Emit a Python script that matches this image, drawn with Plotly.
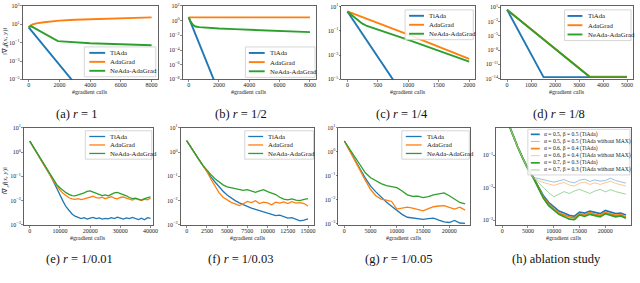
import numpy as np
import plotly.graph_objects as go

# ---------------- data (y values are log10 of ||grad_x f(x,y)||) -------------
# (a) r = 1
a_tiada_x = [0, 2900]
a_tiada_log = [0.66, -5.24]
a_adagrad_x = [0, 100, 250, 500, 1000, 1500, 2000, 3000, 4000, 5000, 6000, 7000, 8000]
a_adagrad_log = [0.66, 0.85, 0.98, 1.1, 1.22, 1.32, 1.4, 1.49, 1.55, 1.6, 1.66, 1.71, 1.76]
a_neada_x = [0, 150, 1900, 2500, 3000, 4000, 5000, 6000, 7000, 8000]
a_neada_log = [0.66, 0.8, -0.83, -0.92, -0.98, -1.07, -1.12, -1.17, -1.22, -1.28]

# (b) r = 1/2
b_tiada_x = [0, 1750]
b_tiada_log = [0.45, -8.51]
b_adagrad_x = [0, 8000]
b_adagrad_log = [0.45, 0.45]
b_neada_x = [0, 150, 300, 450, 700, 1000, 2000, 3000, 4000, 5000, 6000, 7000, 8000]
b_neada_log = [0.45, -0.2, -0.6, -0.8, -0.88, -0.93, -1.07, -1.16, -1.25, -1.33, -1.42, -1.5, -1.56]

# (c) r = 1/4
c_tiada_x = [0, 800]
c_tiada_log = [0.6, -5.4]
c_adagrad_x = [0, 1000, 2000]
c_adagrad_log = [0.6, -1.32, -3.32]
c_neada_x = [0, 130, 240, 320, 1000, 2000]
c_neada_log = [0.6, 0.07, -0.39, -0.6, -1.75, -3.53]

# (d) r = 1/8
d_tiada_x = [0, 1520, 5000]
d_tiada_log = [0.47, -13.67, -13.67]
d_adagrad_x = [0, 3450, 5000]
d_adagrad_log = [0.47, -13.6, -13.6]
d_neada_x = [0, 150, 3450, 5000]
d_neada_log = [0.47, -0.2, -13.67, -13.67]

# (e) r = 1/0.01
e_x = list(range(0, 40001, 1000))
e_tiada_log = [0.45, 0.25, 0.04, -0.17, -0.38, -0.6, -0.8, -1.0, -1.25, -1.52, -1.78,
               -2.02, -2.25, -2.42, -2.55, -2.64, -2.7, -2.74, -2.7, -2.76, -2.72,
               -2.69, -2.74, -2.71, -2.76, -2.73, -2.75, -2.7, -2.74, -2.68, -2.72,
               -2.76, -2.71, -2.74, -2.69, -2.73, -2.78, -2.72, -2.79, -2.7, -2.73]
e_adagrad_log = [0.45, 0.25, 0.04, -0.17, -0.38, -0.6, -0.8, -1.0, -1.22, -1.4, -1.56,
                 -1.7, -1.8, -1.88, -1.93, -1.95, -1.92, -1.96, -1.93, -1.9, -1.85,
                 -1.82, -1.88, -1.9, -1.86, -1.92, -1.88, -1.84, -1.9, -1.93, -1.87,
                 -1.85, -1.9, -1.95, -1.98, -1.92, -1.96, -2.0, -1.94, -1.97, -1.9]
e_neada_log = [0.45, 0.25, 0.04, -0.17, -0.38, -0.6, -0.8, -1.0, -1.2, -1.35, -1.47,
               -1.58, -1.67, -1.74, -1.79, -1.8, -1.77, -1.72, -1.68, -1.62, -1.6,
               -1.65, -1.7, -1.74, -1.79, -1.76, -1.8, -1.74, -1.68, -1.66, -1.7,
               -1.75, -1.8, -1.87, -1.92, -1.9, -1.95, -1.98, -1.92, -1.88, -1.84]

# (f) r = 1/0.03
f_x = list(range(0, 15001, 500))
f_tiada_log = [0.47, 0.2, -0.05, -0.3, -0.55, -0.8, -1.02, -1.23, -1.43, -1.61, -1.77,
               -1.9, -2.0, -2.09, -2.17, -2.25, -2.31, -2.36, -2.41, -2.47, -2.52,
               -2.55, -2.62, -2.6, -2.67, -2.72, -2.7, -2.77, -2.83, -2.8, -2.75]
f_adagrad_log = [0.47, 0.2, -0.05, -0.3, -0.55, -0.8, -1.12, -1.42, -1.67, -1.86, -1.98,
                 -2.07, -2.13, -2.2, -2.13, -2.03, -2.08, -2.0, -2.12, -2.06, -2.09,
                 -2.17, -2.06, -2.1, -2.05, -2.12, -2.04, -2.1, -2.08, -2.12, -2.22]
f_neada_log = [0.47, 0.2, -0.05, -0.3, -0.55, -0.75, -0.93, -1.1, -1.24, -1.35, -1.43,
               -1.47, -1.5, -1.54, -1.58, -1.55, -1.62, -1.66, -1.6, -1.55, -1.63,
               -1.7, -1.75, -1.86, -1.94, -1.97, -1.93, -1.98, -2.0, -1.95, -1.92]

# (g) r = 1/0.05
g_x = list(range(0, 23001, 1000))
g_tiada_log = [0.45, 0.08, -0.3, -0.72, -1.1, -1.44, -1.68, -1.9, -2.1, -2.28, -2.44,
               -2.62, -2.74, -2.78, -2.8, -2.83, -2.8, -2.78, -2.86, -2.93, -2.96,
               -2.87, -2.98, -3.0]
g_adagrad_log = [0.45, 0.06, -0.34, -0.78, -1.2, -1.58, -1.84, -1.98, -2.02, -2.08, -2.4,
                 -2.35, -2.32, -2.36, -2.42, -2.47, -2.38, -2.3, -2.27, -2.25, -2.33,
                 -2.4, -2.32, -2.44]
g_neada_log = [0.45, 0.12, -0.2, -0.58, -0.88, -1.09, -1.22, -1.33, -1.42, -1.46, -1.5,
               -1.64, -1.8, -1.87, -1.86, -1.92, -1.88, -1.8, -1.76, -1.72, -1.84,
               -1.98, -2.12, -2.18]

# (h) ablation study
h_x = list(range(0, 24001, 1000))
h_a5_tiada_log = [0.45, 0.03, -0.38, -0.75, -1.1, -1.42, -1.68, -1.95, -2.25, -2.45, -2.6,
                  -2.72, -2.78, -2.85, -2.88, -2.75, -2.78, -2.72, -2.76, -2.8, -2.7,
                  -2.74, -2.8, -2.78, -2.84]
h_a5_nomax_log = [0.45, 0.03, -0.38, -0.75, -1.1, -1.42, -1.68, -1.72, -1.76, -1.8, -1.83,
                  -1.79, -1.75, -1.82, -1.85, -1.77, -1.74, -1.81, -1.76, -1.8, -1.78,
                  -1.71, -1.78, -1.82, -1.86]
h_a6_tiada_log = [0.45, 0.03, -0.38, -0.75, -1.1, -1.42, -1.68, -1.98, -2.3, -2.5, -2.66,
                  -2.77, -2.84, -2.9, -2.93, -2.8, -2.84, -2.77, -2.82, -2.85, -2.76,
                  -2.8, -2.85, -2.83, -2.9]
h_a6_nomax_log = [0.45, 0.03, -0.38, -0.75, -1.1, -1.42, -1.68, -1.78, -1.84, -1.89, -1.93,
                  -1.88, -1.84, -1.92, -1.95, -1.86, -1.83, -1.9, -1.85, -1.9, -1.86,
                  -1.8, -1.87, -1.9, -1.95]
h_a7_tiada_log = [0.45, 0.03, -0.38, -0.75, -1.1, -1.42, -1.68, -2.0, -2.33, -2.55, -2.7,
                  -2.82, -2.89, -2.97, -2.98, -2.84, -2.88, -2.82, -2.86, -2.9, -2.8,
                  -2.84, -2.9, -2.87, -2.94]
h_a7_nomax_log = [0.45, 0.03, -0.38, -0.75, -1.1, -1.42, -1.68, -1.85, -2.0, -2.15, -2.28,
                  -2.2, -2.12, -2.18, -2.1, -2.05, -2.12, -2.18, -2.1, -2.05, -2.13,
                  -2.06, -2.12, -2.15, -2.2]

# tick labels
xt_ab = [0, 2000, 4000, 6000, 8000]
xt_c = [0, 500, 1000, 1500, 2000]
xt_d = [0, 1000, 2000, 3000, 4000, 5000]
xt_e = [0, 10000, 20000, 30000, 40000]
xt_f = [0, 2500, 5000, 7500, 10000, 12500, 15000]
xt_gh = [0, 5000, 10000, 15000, 20000]
yt_a = [3, 1, -1, -3, -5]
yt_b = [2, 0, -2, -4, -6, -8]
yt_c = [1, -1, -3, -5]
yt_d = [1, -2, -5, -8, -11, -14]
yt_efg = [1, 0, -1, -2, -3]
yt_h = [-1, -2, -3]

# ---------------- styling ----------------
W, H = 640, 283
BLUE, ORANGE, GREEN = "#1f77b4", "#ff7f0e", "#2ca02c"
LBLUE, LORANGE, LGREEN = "#8dbcdc", "#ffbe85", "#93d093"
SERIF = "Liberation Serif"
NAMES3 = ["TiAda", "AdaGrad", "NeAda-AdaGrad"]
H_NAMES = ["α = 0.5, β = 0.5 (TiAda)", "α = 0.5, β = 0.5 (TiAda without MAX)",
           "α = 0.6, β = 0.4 (TiAda)", "α = 0.6, β = 0.4 (TiAda without MAX)",
           "α = 0.7, β = 0.3 (TiAda)", "α = 0.7, β = 0.3 (TiAda without MAX)"]


def pxx(p):
    return p / W


def pxy(p):
    return 1 - p / H


def sup(e):
    s = str(e).replace("-", "\u2212")
    return f"10<sup>{s}</sup>"


def three(tx, tl, ax, al, nx, nl, w):
    return [(tx, tl, BLUE, w, NAMES3[0]), (ax, al, ORANGE, w, NAMES3[1]), (nx, nl, GREEN, w, NAMES3[2])]


specs = [
    dict(box=(22.7, 2, 159, 77.3), xr=[-400, 8400], yr=[-5, 3], xt=xt_ab, yt=yt_a,
         cap="(a) <i>r</i> = 1", capx=77.6, capy=113,
         series=three(a_tiada_x, a_tiada_log, a_adagrad_x, a_adagrad_log, a_neada_x, a_neada_log, 1.9),
         leg=dict(left=85, top=44, right=157, rowh=9.2, font=6.8, sw=16, sx=5, gap=3.3)),
    dict(box=(184, 2, 318.5, 77.3), xr=[-400, 8400], yr=[-8, 2], xt=xt_ab, yt=yt_b,
         cap="(b) <i>r</i> = 1/2", capx=243, capy=113,
         series=three(b_tiada_x, b_tiada_log, b_adagrad_x, b_adagrad_log, b_neada_x, b_neada_log, 1.9),
         leg=dict(left=247.3, top=44, right=317.5, rowh=9.4, font=6.8, sw=16, sx=3.5, gap=3.3)),
    dict(box=(344, 2, 479, 77.3), xr=[-100, 2100], yr=[-5, 1.05], xt=xt_c, yt=yt_c,
         cap="(c) <i>r</i> = 1/4", capx=405, capy=113,
         series=three(c_tiada_x, c_tiada_log, c_adagrad_x, c_adagrad_log, c_neada_x, c_neada_log, 1.9),
         leg=dict(left=408.3, top=6, right=477, rowh=9.2, font=6.8, sw=15, sx=4, gap=3.3)),
    dict(box=(505, 2, 638, 77.3), xr=[-250, 5250], yr=[-14.15, 1.25], xt=xt_d, yt=yt_d,
         cap="(d) <i>r</i> = 1/8", capx=563, capy=113,
         series=three(d_tiada_x, d_tiada_log, d_adagrad_x, d_adagrad_log, d_neada_x, d_neada_log, 1.9),
         leg=dict(left=569, top=6, right=636, rowh=9.5, font=6.8, sw=15, sx=3, gap=3.3)),
    dict(box=(24, 127, 154, 227), xr=[-1970, 40750], yr=[-3.02, 1.0], xt=xt_e, yt=yt_efg,
         cap="(e) <i>r</i> = 1/0.01", capx=80, capy=261,
         series=three(e_x, e_tiada_log, e_x, e_adagrad_log, e_x, e_neada_log, 1.3),
         leg=dict(left=86, top=130, right=153, rowh=8.7, font=6.8, sw=16, sx=4, gap=3.3)),
    dict(box=(182, 127, 317, 227), xr=[-750, 15800], yr=[-3.02, 1.0], xt=xt_f, yt=yt_efg,
         cap="(f) <i>r</i> = 1/0.03", capx=242, capy=261,
         series=three(f_x, f_tiada_log, f_x, f_adagrad_log, f_x, f_neada_log, 1.3),
         leg=dict(left=246.7, top=130, right=316, rowh=8.7, font=6.8, sw=15, sx=3.5, gap=3.3)),
    dict(box=(341, 127, 474, 227), xr=[-1150, 24000], yr=[-3.08, 1.0], xt=xt_gh, yt=yt_efg,
         cap="(g) <i>r</i> = 1/0.05", capx=402, capy=261,
         series=three(g_x, g_tiada_log, g_x, g_adagrad_log, g_x, g_neada_log, 1.3),
         leg=dict(left=405, top=130, right=473, rowh=8.7, font=6.8, sw=16, sx=4, gap=3.3)),
    dict(box=(500, 127, 636, 227), xr=[-1190, 24990], yr=[-3.16, -0.16], xt=xt_gh, yt=yt_h,
         cap="(h) ablation study", capx=561, capy=261,
         series=[(h_x, h_a5_tiada_log, BLUE, 1.7, H_NAMES[0]),
                 (h_x, h_a5_nomax_log, LBLUE, 0.9, H_NAMES[1]),
                 (h_x, h_a6_tiada_log, ORANGE, 1.7, H_NAMES[2]),
                 (h_x, h_a6_nomax_log, LORANGE, 0.9, H_NAMES[3]),
                 (h_x, h_a7_tiada_log, GREEN, 1.7, H_NAMES[4]),
                 (h_x, h_a7_nomax_log, LGREEN, 0.9, H_NAMES[5])],
         leg=dict(left=532, top=128.5, right=635, rowh=7.3, font=5.6, sw=9, sx=3, gap=2.5)),
]

axis_common = dict(showline=True, linecolor="#3a3a3a", linewidth=0.8, mirror=True,
                   ticks="outside", ticklen=2, tickwidth=0.6, tickcolor="#3a3a3a",
                   showgrid=False, zeroline=False,
                   tickfont=dict(size=6, family=SERIF, color="#222"))

fig = go.Figure()
layout = {}
shapes = []
annotations = []

for i, sp in enumerate(specs, start=1):
    xa = "xaxis" if i == 1 else f"xaxis{i}"
    ya = "yaxis" if i == 1 else f"yaxis{i}"
    xid = "x" if i == 1 else f"x{i}"
    yid = "y" if i == 1 else f"y{i}"
    l, t, r, b = sp["box"]
    layout[xa] = dict(domain=[pxx(l), pxx(r)], anchor=yid, range=sp["xr"], ticklabelstandoff=-2,
                      tickvals=sp["xt"], ticktext=[str(v) for v in sp["xt"]], **axis_common)
    layout[ya] = dict(domain=[pxy(b), pxy(t)], anchor=xid, type="log", range=sp["yr"],
                      ticklabelstandoff=-1,
                      tickvals=[10.0 ** e for e in sp["yt"]], ticktext=[sup(e) for e in sp["yt"]],
                      **axis_common)
    for (x, lg, color, width, name) in sp["series"]:
        fig.add_trace(go.Scatter(x=x, y=np.power(10.0, lg), mode="lines", name=name,
                                 line=dict(color=color, width=width),
                                 xaxis=xid, yaxis=yid, showlegend=False, hoverinfo="skip"))
    # caption
    annotations.append(dict(text=sp["cap"], x=pxx(sp["capx"]), y=pxy(sp["capy"]), xref="paper",
                            yref="paper", showarrow=False, xanchor="center", yanchor="middle",
                            font=dict(family=SERIF, size=12.5, color="#111")))
    # x label
    annotations.append(dict(text="#gradient calls", x=pxx((l + r) / 2), y=pxy(b + 12.5), xref="paper",
                            yref="paper", showarrow=False, xanchor="center", yanchor="middle",
                            font=dict(family=SERIF, size=6, color="#222")))
    # legend (box + swatches + labels)
    lgd = sp["leg"]
    n = len(sp["series"])
    top = lgd["top"]
    bottom = top + lgd["rowh"] * n + 3
    shapes.append(dict(type="rect", xref="paper", yref="paper", x0=pxx(lgd["left"]), x1=pxx(lgd["right"]),
                       y0=pxy(bottom), y1=pxy(top), line=dict(color="#cccccc", width=0.8),
                       fillcolor="rgba(255,255,255,0.85)", layer="above"))
    for k, (x, lg, color, width, name) in enumerate(sp["series"]):
        yk = top + 1.5 + lgd["rowh"] * (k + 0.5)
        x0 = lgd["left"] + lgd["sx"]
        shapes.append(dict(type="line", xref="paper", yref="paper", x0=pxx(x0), x1=pxx(x0 + lgd["sw"]),
                           y0=pxy(yk), y1=pxy(yk), line=dict(color=color, width=width), layer="above"))
        annotations.append(dict(text=name, x=pxx(x0 + lgd["sw"] + lgd["gap"]), y=pxy(yk), xref="paper",
                                yref="paper", showarrow=False, xanchor="left", yanchor="middle",
                                font=dict(family=SERIF, size=lgd["font"], color="#222")))

# y-axis titles
for yc in (38, 181):
    annotations.append(dict(text="‖∇<sub><i>x</i></sub><i>f</i>(<i>x</i>, <i>y</i>)‖", x=pxx(5), y=pxy(yc),
                            xref="paper", yref="paper", showarrow=False, textangle=-90,
                            xanchor="center", yanchor="middle",
                            font=dict(family=SERIF, size=7, color="#222")))

fig.update_layout(width=W, height=H, margin=dict(l=0, r=0, t=0, b=0),
                  paper_bgcolor="white", plot_bgcolor="white", showlegend=False,
                  shapes=shapes, annotations=annotations, **layout)

fig.write_html("out.html", config={"displayModeBar": False, "staticPlot": True},
               post_script="document.body.style.margin='0px';")
